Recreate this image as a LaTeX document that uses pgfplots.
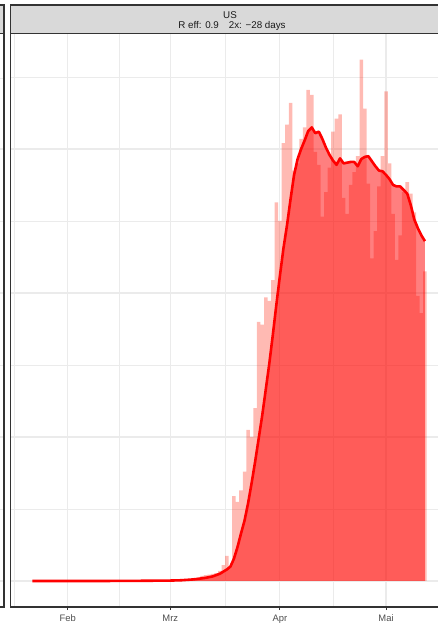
\documentclass[border=0pt]{standalone}
\usepackage{fontspec}
\setmainfont{Liberation Sans}
\usepackage{pgfplots}
\pgfplotsset{compat=1.18}
\usepackage{pgfplotstable}

\definecolor{gridc}{RGB}{235,235,235}
\definecolor{framec}{RGB}{51,51,51}
\definecolor{stripfill}{RGB}{217,217,217}
\definecolor{labelgray}{RGB}{77,77,77}
\definecolor{striptext}{RGB}{26,26,26}
\definecolor{barcol}{RGB}{255,40,20}

% daily new cases (thousands), day index: Jan 1 = 0, Feb 1 = 31, Mar 1 = 60, Apr 1 = 91, May 1 = 121
\pgfplotstableread{
d v
60 0.02
61 0.03
62 0.05
63 0.06
64 0.08
65 0.10
66 0.12
67 0.15
68 0.25
69 0.35
70 0.40
71 0.45
72 0.50
73 0.55
74 0.70
75 1.10
76 1.75
77 1.00
78 5.9
79 5.5
80 6.3
81 7.6
82 10.5
83 10.0
84 12.0
85 18.0
86 17.8
87 19.7
88 19.45
89 20.9
90 26.3
91 25.0
92 30.4
93 31.7
94 33.2
95 28.5
96 29.0
97 30.7
98 31.5
99 34.1
100 33.75
101 29.8
102 28.9
103 25.3
104 27.0
105 28.7
106 31.2
107 32.1
108 32.4
109 26.6
110 25.5
111 27.5
112 28.4
113 29.5
114 36.2
115 32.8
116 27.6
117 22.4
118 24.3
119 27.4
120 29.5
121 34.0
122 29.0
123 25.5
124 22.3
125 24.0
126 27.0
127 27.7
128 26.9
129 25.6
130 19.8
131 18.6
132 21.5
}\bars

% smoothed curve (thousands)
\pgfplotstableread{
d v
21 0
30 0
40 0
50 0.01
55 0.02
60 0.03
63 0.05
66 0.10
68 0.15
70 0.22
72 0.32
74 0.50
76 0.80
77 1.00
78 1.55
79 2.35
80 3.3
81 4.2
82 5.4
83 6.8
84 8.3
85 9.9
86 11.5
87 13.3
88 15.1
89 17.1
90 19.2
91 21.2
92 23.1
93 24.7
94 26.5
95 28.2
96 29.3
97 30.0
98 30.6
99 31.25
100 31.5
101 31.1
102 31.2
103 30.7
104 30.1
105 29.6
106 29.2
107 28.9
108 29.35
109 29.0
110 29.05
111 29.1
112 29.1
113 28.8
114 29.3
115 29.45
116 29.5
117 29.15
118 28.8
119 28.5
120 28.45
121 28.2
122 27.9
123 27.5
124 27.4
125 27.4
126 27.15
127 26.9
128 26.1
129 25.1
130 24.5
131 24.0
132 23.6
}\curve

\begin{document}
\begin{tikzpicture}
\useasboundingbox (0,0) rectangle (438bp,625bp);
\clip (0,0) rectangle (438bp,625bp);

% remnant of the neighbouring facet on the left
\fill[stripfill] (-3bp,591.5bp) rectangle (4bp,620bp);
\foreach \yy in {44,188,332,476} {\draw[gridc, line width=1.1bp] (-3bp,\yy bp) -- (4bp,\yy bp);}
\foreach \yy in {116,260,404,547} {\draw[gridc, line width=0.55bp] (-3bp,\yy bp) -- (4bp,\yy bp);}
\draw[framec, line width=1.1bp] (-3bp,620bp) -- (4bp,620bp) -- (4bp,18bp) -- (-3bp,18bp);
\draw[framec, line width=1.1bp] (-3bp,591.5bp) -- (4bp,591.5bp);

\begin{axis}[
  at={(10.7bp,18bp)}, anchor=south west,
  scale only axis, width=440.3bp, height=573.5bp,
  xmin=14.885, xmax=139.37, ymin=-1.806, ymax=38.02,
  axis line style={draw=framec, line width=1.2bp},
  xtick={31,60,91,121}, xticklabels={Feb,Mrz,Apr,Mai},
  minor xtick={16,45.5,75.5,106,136.5},
  ytick={0,10,20,30}, minor ytick={5,15,25,35}, yticklabels={},
  grid=both,
  major grid style={gridc, line width=1.1bp},
  minor grid style={gridc, line width=0.55bp},
  tick align=outside, xtick pos=left, ytick pos=left,
  major tick length=3.2bp, minor tick length=0pt,
  y tick style={draw=none},
  x tick style={draw=framec, line width=1bp},
  xticklabel style={font=\fontsize{9.4bp}{11bp}\selectfont, text=labelgray, anchor=base, inner sep=0pt, yshift=-11.5bp},
]
\addplot[ybar, bar width=1, bar shift=0pt, draw=none, fill=barcol, fill opacity=0.32] table[x=d,y=v]{\bars};
\addplot[draw=none, fill=red, fill opacity=0.5] table[x=d,y=v]{\curve} \closedcycle;
\addplot[red, line width=2.6bp, line join=round] table[x=d,y=v]{\curve};
\end{axis}

% facet strip
\filldraw[fill=stripfill, draw=framec, line width=1.1bp] (10.7bp,591.5bp) rectangle (451bp,620bp);
\node[anchor=base, inner sep=0pt, font=\fontsize{9.8bp}{11bp}\selectfont, text=striptext] at (230bp,606.7bp) {US};
\node[anchor=base, inner sep=0pt, font=\fontsize{9.8bp}{11bp}\selectfont, text=striptext] at (232bp,596.7bp) {R eff: 0.9\hspace{10bp}2x: −28 days};
\end{tikzpicture}
\end{document}
